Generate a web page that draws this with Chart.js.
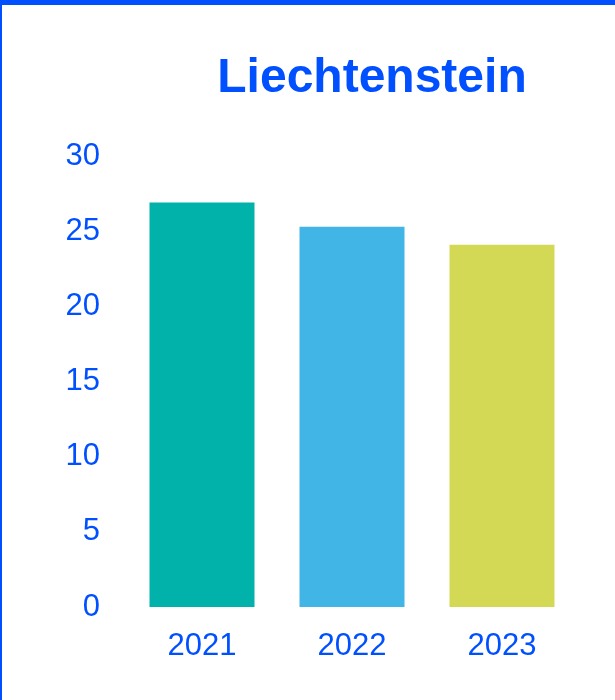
<!DOCTYPE html>
<html>
<head>
<meta charset="utf-8">
<script src="https://cdn.jsdelivr.net/npm/chart.js@4"></script>
<style>
html,body{margin:0;padding:0;background:#fff;}
#wrap{position:absolute;left:0;top:0;width:613px;height:695px;border-top:5px solid #0050FF;border-left:2px solid #0050FF;}
canvas{display:block;}
</style>
</head>
<body>
<div id="wrap"><canvas id="c" width="613" height="695"></canvas></div>
<script>
const titleText = "Liechtenstein";
const categories = ["2021", "2022", "2023"];
const values = [26.9, 25.3, 24.1];
const barColors = ["#00B2A9", "#41B6E6", "#D3D955"];
const yTicks = [0, 5, 10, 15, 20, 25, 30];

const blue = "#0050FF";
const fontFamily = "'Liberation Sans', Arial, sans-serif";

const titlePlugin = {
  id: "customTitle",
  afterDraw(chart) {
    const ctx = chart.ctx;
    ctx.save();
    ctx.font = "bold 48px " + fontFamily;
    ctx.fillStyle = blue;
    ctx.textAlign = "center";
    ctx.textBaseline = "alphabetic";
    ctx.fillText(titleText, 370, 87);
    ctx.restore();
  }
};

new Chart(document.getElementById("c"), {
  type: "bar",
  data: {
    labels: categories,
    datasets: [{
      data: values,
      backgroundColor: barColors,
      borderWidth: 0,
      categoryPercentage: 0.7,
      barPercentage: 1.0
    }]
  },
  options: {
    responsive: false,
    animation: false,
    layout: { padding: { top: 151, left: 0, right: 38, bottom: 0 } },
    plugins: { legend: { display: false }, tooltip: { enabled: false }, title: { display: false } },
    scales: {
      y: {
        min: 0, max: 30,
        afterBuildTicks(scale) { scale.ticks = yTicks.map(v => ({ value: v })); },
        afterFit(scale) { scale.width = 125; },
        grid: { display: false, drawTicks: false },
        border: { display: false },
        ticks: { color: blue, padding: 27, font: { family: fontFamily, size: 31 } }
      },
      x: {
        afterFit(scale) { scale.height = 93; },
        grid: { display: false, drawTicks: false },
        border: { display: false },
        ticks: { color: blue, padding: 21, font: { family: fontFamily, size: 31 } }
      }
    }
  },
  plugins: [titlePlugin]
});
</script>
</body>
</html>
